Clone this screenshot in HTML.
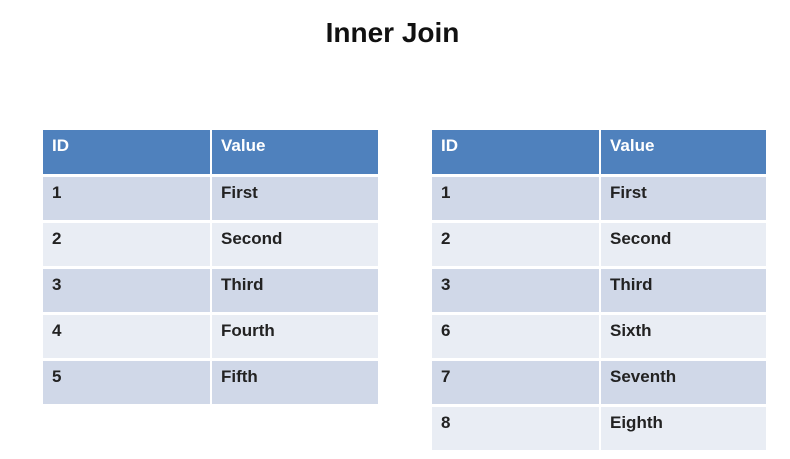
<!DOCTYPE html>
<html><head><style>
body{margin:0;width:790px;height:459px;background:#fff;font-family:"Liberation Sans",sans-serif;position:relative;overflow:hidden}
.t{position:absolute;top:17px;left:0;width:785px;text-align:center;font-size:28px;font-weight:bold;color:#111}
table{position:absolute;border-collapse:collapse;top:130px}
td{border:1px solid #fff;border-width:0 2px 3px 0;padding:0 0 0 9px;font-size:17px;font-weight:bold;color:#222;vertical-align:top;padding-top:6px;box-sizing:border-box}
tr td:last-child{border-right:0}
tr.h td{background:#4f81bd;color:#fff;height:45px;padding-top:6px}
tr.o td{background:#d0d8e8}
tr.e td{background:#e9edf4}
tr td{height:46px}
</style></head><body>
<div class="t">Inner Join</div>
<table style="left:43px;width:335px">
<tr class="h"><td style="width:168px">ID</td><td>Value</td></tr>
<tr class="o"><td>1</td><td>First</td></tr>
<tr class="e"><td>2</td><td>Second</td></tr>
<tr class="o"><td>3</td><td>Third</td></tr>
<tr class="e"><td>4</td><td>Fourth</td></tr>
<tr class="o"><td>5</td><td>Fifth</td></tr>
</table>
<table style="left:432px;width:334px">
<tr class="h"><td style="width:168px">ID</td><td>Value</td></tr>
<tr class="o"><td>1</td><td>First</td></tr>
<tr class="e"><td>2</td><td>Second</td></tr>
<tr class="o"><td>3</td><td>Third</td></tr>
<tr class="e"><td>6</td><td>Sixth</td></tr>
<tr class="o"><td>7</td><td>Seventh</td></tr>
<tr class="e"><td>8</td><td>Eighth</td></tr>
</table>
</body></html>
